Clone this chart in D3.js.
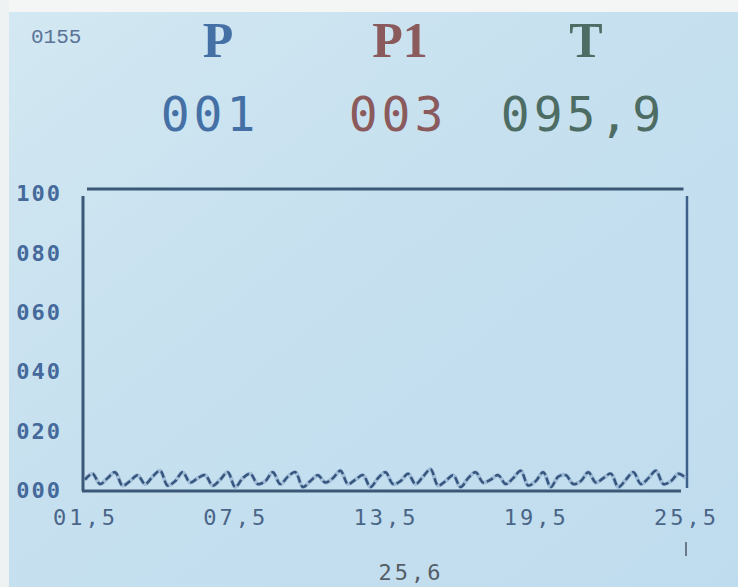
<!DOCTYPE html>
<html>
<head>
<meta charset="utf-8">
<script src="https://cdn.jsdelivr.net/npm/d3@7"></script>
<style>
    body { margin: 0; background: #fff; }
    svg { display: block; }
</style>
</head>
<body>
<div id="graph"></div>
<script>
// header readings
var headerNames = ["P", "P1", "T"];
var headerValues = ["001", "003", "095,9"];
var headerColors = ["#4470a6", "#8a5a5c", "#4d6c63"];
var counterLabel = "0155";
var footerLabel = "25,6";

// axis
var yTicks = [0, 20, 40, 60, 80, 100];
var xTicks = [1.5, 7.5, 13.5, 19.5, 25.5];

// trace, one reading every 0.3 from 01,5 to 25,5
var xStart = 1.5, xStep = 0.3;
var trace = [
    3.5, 5.5, 2.0, 4.0, 6.0, 1.5, 3.0, 5.0, 2.0, 4.5, 6.5, 1.5,
    3.0, 6.0, 2.5, 4.0, 5.0, 1.5, 3.5, 6.0, 1.0, 4.0, 5.5, 2.0,
    3.0, 6.0, 2.0, 4.5, 6.0, 1.0, 3.0, 5.0, 2.5, 4.0, 6.5, 2.0,
    3.5, 5.0, 1.0, 4.0, 6.0, 2.0, 3.0, 5.5, 2.0, 4.5, 7.0, 1.5,
    3.0, 5.0, 1.0, 4.0, 6.0, 2.5, 3.5, 5.0, 2.0, 4.0, 6.5, 1.5,
    3.0, 6.0, 1.0, 4.5, 5.0, 2.0, 3.0, 6.0, 2.5, 4.0, 5.5, 1.0,
    3.5, 6.0, 2.0, 4.0, 6.5, 2.0, 3.0, 5.5, 4.0
];

var width = 738, height = 587;
var margin = {left: 85, right: 52, top: 193, bottom: 97};

var svg = d3.select('#graph').append('svg')
    .attr('width', width)
    .attr('height', height);

var defs = svg.append('defs');
var grad = defs.append('linearGradient')
    .attr('id', 'screen')
    .attr('x1', '0').attr('y1', '0')
    .attr('x2', '1').attr('y2', '1');
grad.append('stop').attr('offset', '0%').attr('stop-color', '#d3e8f2');
grad.append('stop').attr('offset', '45%').attr('stop-color', '#c6e0ef');
grad.append('stop').attr('offset', '100%').attr('stop-color', '#bfdcee');

// LCD panel, photo edge shows white at top and left
svg.append('rect')
    .attr('x', 0).attr('y', 0)
    .attr('width', width).attr('height', height)
    .attr('fill', 'url(#screen)');
svg.append('rect')
    .attr('x', 0).attr('y', 0)
    .attr('width', width).attr('height', 12)
    .attr('fill', '#f4f6f6');
svg.append('rect')
    .attr('x', 0).attr('y', 0)
    .attr('width', 9).attr('height', height)
    .attr('fill', '#eef2f3');

var x = d3.scaleLinear()
    .domain([xTicks[0], xTicks[xTicks.length - 1]])
    .range([margin.left, width - margin.right]);
var y = d3.scaleLinear()
    .domain([0, 100])
    .range([height - margin.bottom, margin.top]);

var monoFont = '"DejaVu Sans Mono", monospace';

// header
svg.append('text')
    .attr('x', 31).attr('y', 43)
    .attr('font-family', '"Liberation Mono", monospace')
    .attr('font-size', 21)
    .attr('fill', '#5a7396')
    .text(counterLabel);

var headerX = [218, 400, 586];
var valueX = [210, 398, 583];

svg.selectAll('.hname')
    .data(headerNames)
    .enter()
    .append('text')
    .attr('class', 'hname')
    .attr('x', function (d, i) { return headerX[i]; })
    .attr('y', 57)
    .attr('text-anchor', 'middle')
    .attr('font-family', '"Liberation Serif", serif')
    .attr('font-weight', 'bold')
    .attr('font-size', 50)
    .attr('fill', function (d, i) { return headerColors[i]; })
    .text(function (d) { return d; });

svg.selectAll('.hval')
    .data(headerValues)
    .enter()
    .append('text')
    .attr('class', 'hval')
    .attr('x', function (d, i) { return valueX[i]; })
    .attr('y', 131)
    .attr('text-anchor', 'middle')
    .attr('font-family', monoFont)
    .attr('font-size', 48)
    .attr('letter-spacing', 4)
    .attr('fill', function (d, i) { return headerColors[i]; })
    .text(function (d) { return d; });

// y axis labels
var yAxis = d3.axisLeft(y)
    .tickValues(yTicks)
    .tickSize(0)
    .tickPadding(0)
    .tickFormat(function (d) { return d3.format('03d')(d); });
var gy = svg.append('g')
    .attr('transform', 'translate(62,0)')
    .call(yAxis);
gy.select('.domain').remove();
gy.selectAll('text')
    .attr('font-family', monoFont)
    .attr('font-size', 22)
    .attr('font-weight', 'bold')
    .attr('letter-spacing', 2)
    .attr('fill', '#44699a')
    .attr('dy', '0.35em');

// x axis labels
var xAxis = d3.axisBottom(x)
    .tickValues(xTicks)
    .tickSize(0)
    .tickPadding(0)
    .tickFormat(function (d) { return d3.format('04.1f')(d).replace('.', ','); });
var gx = svg.append('g')
    .attr('transform', 'translate(0,' + (height - margin.bottom + 15) + ')')
    .call(xAxis);
gx.select('.domain').remove();
gx.selectAll('text')
    .attr('font-family', monoFont)
    .attr('font-size', 22)
    .attr('letter-spacing', 3)
    .attr('fill', '#4a6587')
    .attr('dy', '0.9em');

// plot frame
var frameColor = '#3b5877';
svg.append('line')
    .attr('x1', x(xTicks[0]) + 2).attr('x2', x(25.4))
    .attr('y1', y(100) - 4).attr('y2', y(100) - 4)
    .attr('stroke', frameColor).attr('stroke-width', 3);
svg.append('line')
    .attr('x1', x(xTicks[0]) - 2).attr('x2', x(xTicks[0]) - 2)
    .attr('y1', y(100) + 3).attr('y2', y(0) + 1)
    .attr('stroke', frameColor).attr('stroke-width', 3);
svg.append('line')
    .attr('x1', x(25.5) + 1).attr('x2', x(25.5) + 1)
    .attr('y1', y(100) + 3).attr('y2', y(0) - 2)
    .attr('stroke', '#3e5f8a').attr('stroke-width', 2.5);
svg.append('line')
    .attr('x1', x(xTicks[0]) - 3).attr('x2', x(25.3))
    .attr('y1', y(0) + 1).attr('y2', y(0) + 1)
    .attr('stroke', frameColor).attr('stroke-width', 3);

// trace
var line = d3.line()
    .x(function (d, i) { return x(xStart + i * xStep); })
    .y(function (d) { return y(d); })
    .curve(d3.curveCatmullRom);

svg.append('path')
    .datum(trace)
    .attr('fill', 'none')
    .attr('stroke', '#7e9cc0')
    .attr('stroke-width', 4)
    .attr('opacity', 0.5)
    .attr('d', line);
svg.append('path')
    .datum(trace)
    .attr('fill', 'none')
    .attr('stroke', '#36557e')
    .attr('stroke-width', 2.5)
    .attr('stroke-dasharray', '7,3')
    .attr('d', line);

// footer
svg.append('text')
    .attr('x', 411).attr('y', 580)
    .attr('text-anchor', 'middle')
    .attr('font-family', monoFont)
    .attr('font-size', 22)
    .attr('letter-spacing', 3)
    .attr('fill', '#555d66')
    .text(footerLabel);

svg.append('line')
    .attr('x1', x(25.5)).attr('x2', x(25.5))
    .attr('y1', 542).attr('y2', 556)
    .attr('stroke', '#6a7a88').attr('stroke-width', 2);
</script>
</body>
</html>
